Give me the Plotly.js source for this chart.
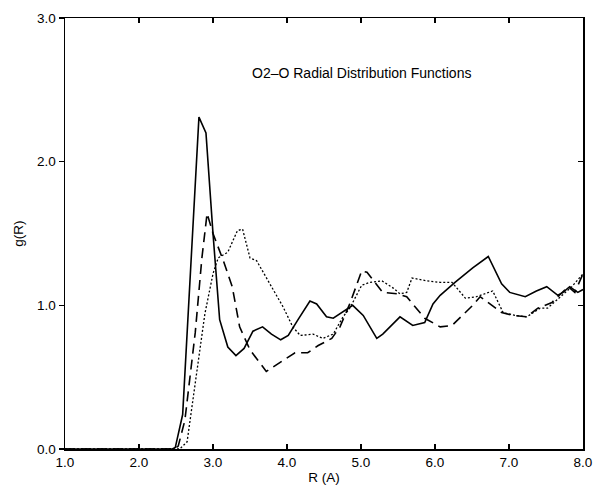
<!DOCTYPE html>
<html>
<head>
<meta charset="utf-8">
<script src="https://cdn.plot.ly/plotly-3.0.1.min.js"></script>
<style>html,body{margin:0;padding:0;background:#fff;}#chart{width:595px;height:489px;}</style>
</head>
<body>
<div id="chart"></div>
<script>
// Solid curve
const solidR = [1.0,2.45,2.49,2.59,2.81,2.905,3.0,3.09,3.2,3.31,3.42,3.54,3.67,3.79,3.915,4.017,4.149,4.31,4.401,4.534,4.625,4.746,4.888,5.03,5.213,5.294,5.436,5.527,5.699,5.861,5.973,6.07,6.27,6.51,6.72,6.9,7.01,7.22,7.37,7.51,7.66,7.73,7.82,7.93,8.0];
const solidG = [0,0,0.01,0.24,2.31,2.2,1.5,0.9,0.71,0.65,0.7,0.82,0.85,0.8,0.76,0.79,0.9,1.03,1.01,0.92,0.91,0.95,1.0,0.93,0.77,0.8,0.87,0.92,0.86,0.88,1.01,1.07,1.16,1.26,1.34,1.15,1.09,1.06,1.1,1.13,1.07,1.09,1.13,1.09,1.11];
// Dashed curve
const dashR = [1.0,2.48,2.53,2.62,2.76,2.85,2.92,3.0,3.14,3.26,3.36,3.5,3.72,3.905,4.108,4.28,4.422,4.605,4.716,4.848,5.01,5.081,5.294,5.486,5.618,5.73,5.861,6.07,6.23,6.51,6.61,6.9,7.057,7.24,7.39,7.58,7.8,7.89,8.0];
const dashG = [0,0,0.02,0.2,0.81,1.33,1.64,1.5,1.31,1.13,0.85,0.69,0.54,0.6,0.67,0.67,0.72,0.77,0.85,1.01,1.24,1.23,1.09,1.08,1.06,0.99,0.91,0.85,0.86,1.0,1.06,0.95,0.93,0.92,0.98,1.02,1.13,1.09,1.22];
// Dotted curve
const dotR = [1.0,2.55,2.65,2.73,2.89,3.0,3.07,3.2,3.33,3.4,3.5,3.59,3.67,3.79,3.946,4.078,4.179,4.351,4.483,4.625,4.757,4.848,5.01,5.121,5.284,5.436,5.527,5.618,5.689,5.891,6.07,6.23,6.41,6.56,6.78,6.92,7.08,7.24,7.42,7.52,7.69,7.85,8.0];
const dotG = [0,0,0.05,0.34,0.94,1.22,1.33,1.37,1.52,1.53,1.33,1.31,1.24,1.13,0.99,0.85,0.79,0.8,0.77,0.8,0.92,0.98,1.14,1.16,1.17,1.12,1.08,1.09,1.19,1.17,1.16,1.16,1.05,1.06,1.1,0.95,0.93,0.92,0.98,0.98,1.06,1.13,1.22];

const xTicks = [1,2,3,4,5,6,7,8];
const xTickText = ["1.0","2.0","3.0","4.0","5.0","6.0","7.0","8.0"];
const yTicks = [0,1,2,3];
const yTickText = ["0.0","1.0","2.0","3.0"];

const FONT = "Liberation Sans, Arial, Helvetica, sans-serif";

const traces = [
  {x: solidR, y: solidG, mode: 'lines', line: {color: '#000', width: 1.6, dash: 'solid'}, showlegend: false, hoverinfo: 'skip'},
  {x: dashR, y: dashG, mode: 'lines', line: {color: '#000', width: 1.6, dash: '10px,6px'}, showlegend: false, hoverinfo: 'skip'},
  {x: dotR, y: dotG, mode: 'lines', line: {color: '#000', width: 1.3, dash: '2px,2px'}, showlegend: false, hoverinfo: 'skip'},
  {x: [1], y: [0], yaxis: 'y2', mode: 'markers', marker: {opacity: 0}, showlegend: false, hoverinfo: 'skip'}
];

const layout = {
  width: 595, height: 489,
  margin: {l: 65, r: 12, t: 18, b: 40},
  paper_bgcolor: '#fff', plot_bgcolor: '#fff',
  font: {family: FONT, size: 13, color: '#000'},
  xaxis: {
    range: [1, 8], tickvals: xTicks, ticktext: xTickText,
    ticks: 'inside', ticklen: 5, tickwidth: 1.2, tickcolor: '#000',
    showline: true, linecolor: '#000', linewidth: 1.5, mirror: 'ticks',
    showgrid: false, zeroline: false,
    tickfont: {size: 13.5},
    title: {text: 'R (A)', font: {size: 13.5}, standoff: 4}
  },
  yaxis: {
    range: [0, 3], tickvals: yTicks, ticktext: yTickText,
    ticks: 'outside', ticklen: 5, tickwidth: 1.2, tickcolor: '#000',
    showline: true, linecolor: '#000', linewidth: 1.5, mirror: true,
    showgrid: false, zeroline: false,
    tickfont: {size: 13.5},
    title: {text: 'g(R)', font: {size: 13.5}, standoff: 10}
  },
  yaxis2: {
    range: [0, 3], tickvals: yTicks, overlaying: 'y', side: 'right',
    ticks: 'inside', ticklen: 5, tickwidth: 1.2, tickcolor: '#000',
    showticklabels: false, showline: false, showgrid: false, zeroline: false
  },
  annotations: [{
    x: 5.007, y: 2.62, xref: 'x', yref: 'y',
    text: 'O2\u2013O Radial Distribution Functions',
    showarrow: false, font: {size: 14, family: FONT, color: '#000'},
    xanchor: 'center', yanchor: 'middle'
  }]
};

Plotly.newPlot('chart', traces, layout, {staticPlot: true, displayModeBar: false});
</script>
</body>
</html>
